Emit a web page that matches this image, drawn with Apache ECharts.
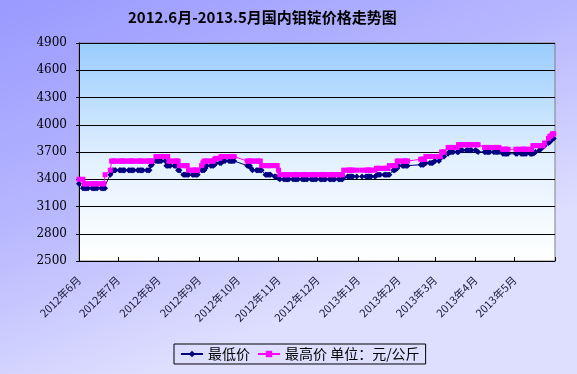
<!DOCTYPE html>
<html><head><meta charset="utf-8">
<script src="https://cdn.jsdelivr.net/npm/echarts@6/dist/echarts.min.js"></script>
<style>html,body{margin:0;padding:0;}#c{width:577px;height:374px;}</style>
</head><body><div id="c"></div>
<script>
const titleText = '2012.6月-2013.5月国内钼锭价格走势图';
const monthKeys = ['2012-06','2012-07','2012-08','2012-09','2012-10','2012-11','2012-12','2013-01','2013-02','2013-03','2013-04','2013-05'];
const monthLabels = ['2012年6月','2012年7月','2012年8月','2012年9月','2012年10月','2012年11月','2012年12月','2013年1月','2013年2月','2013年3月','2013年4月','2013年5月'];
const yTicks = [2500,2800,3100,3400,3700,4000,4300,4600,4900];
const seriesNames = ['最低价','最高价'];
const unitText = '单位：元/公斤';
// trading days in each month
const tradingDays = [
  [1,4,5,6,7,8,11,12,13,14,15,18,19,20,21,25,26,27,28,29],
  [2,3,4,5,6,9,10,11,12,13,16,17,18,19,20,23,24,25,26,27,30,31],
  [1,2,3,6,7,8,9,10,13,14,15,16,17,20,21,22,23,24,27,28,29,30,31],
  [3,4,5,6,7,10,11,12,13,14,17,18,19,20,21,24,25,26,27,28],
  [8,9,10,11,12,15,16,17,18,19,22,23,24,25,26,29,30,31],
  [1,2,5,6,7,8,9,12,13,14,15,16,19,20,21,22,23,26,27,28,29,30],
  [3,4,5,6,7,10,11,12,13,14,17,18,19,20,21,24,25,26,27,28,31],
  [4,7,8,9,10,11,14,15,16,17,18,21,22,23,24,25,28,29,30,31],
  [1,4,5,6,7,8,18,19,20,21,22,25,26,27,28],
  [1,4,5,6,7,8,11,12,13,14,15,18,19,20,21,22,25,26,27,28,29],
  [1,2,3,8,9,10,11,12,15,16,17,18,19,22,23,24,25,26],
  [2,3,6,7,8,9,10,13,14,15,16,17,20,21,22,23,24,27,28,29,30,31]
];
const lowValues = [
  3350,3300,3300,3300,3300,3300,3300,3300,3300,3300,3300,3300,3300,3300,3300,3450,3480,3500,3500,3500,
  3500,3500,3500,3500,3500,3500,3500,3500,3500,3500,3500,3500,3500,3500,3500,3500,3500,3500,3550,3560,3600,3600,
  3600,3600,3600,3600,3550,3550,3550,3550,3550,3550,3550,3500,3500,3450,3450,3450,3450,3450,3450,3450,3450,3450,3450,
  3500,3500,3500,3520,3550,3550,3550,3550,3560,3580,3580,3580,3600,3600,3600,3600,3600,3600,3600,3600,
  3550,3550,3550,3520,3500,3500,3500,3500,3500,3500,3450,3450,3450,3450,3450,3430,3430,3420,
  3410,3400,3400,3400,3400,3400,3400,3400,3400,3400,3400,3400,3400,3400,3400,3400,3400,3400,3400,3400,3400,3400,
  3400,3400,3400,3400,3400,3400,3400,3400,3400,3400,3400,3400,3400,3400,3420,3430,3430,3430,3430,3430,3430,
  3430,3430,3430,3430,3430,3430,3430,3440,3450,3450,3450,3450,3450,3450,3450,3450,3500,3500,3510,3520,
  3550,3550,3550,3550,3550,3550,3560,3560,3560,3570,3580,3580,3580,3580,3590,
  3600,3600,3630,3650,3650,3650,3680,3700,3700,3700,3700,3700,3700,3720,3720,3720,3720,3720,3720,3720,3720,
  3720,3710,3700,3700,3700,3700,3700,3700,3700,3700,3700,3700,3700,3680,3680,3680,3680,3680,
  3680,3680,3680,3680,3680,3680,3680,3680,3680,3680,3690,3700,3720,3730,3750,3760,3770,3800,3810,3830,3840,3850
];
const highValues = [
  3400,3400,3350,3350,3350,3350,3350,3350,3350,3350,3350,3350,3350,3350,3450,3500,3600,3600,3600,3600,
  3600,3600,3600,3600,3600,3600,3600,3600,3600,3600,3600,3600,3600,3600,3600,3600,3600,3600,3600,3600,3650,3650,
  3650,3650,3650,3650,3650,3650,3600,3600,3600,3600,3600,3600,3550,3550,3550,3550,3550,3500,3500,3500,3500,3500,3500,
  3550,3580,3600,3600,3600,3600,3600,3600,3620,3630,3630,3650,3650,3650,3650,3650,3650,3650,3650,3650,
  3600,3600,3600,3600,3600,3600,3600,3600,3600,3550,3550,3550,3550,3550,3550,3550,3550,3550,
  3500,3450,3450,3450,3450,3450,3450,3450,3450,3450,3450,3450,3450,3450,3450,3450,3450,3450,3450,3450,3450,3450,
  3450,3450,3450,3450,3450,3450,3450,3450,3450,3450,3450,3450,3450,3450,3500,3500,3500,3500,3500,3500,3500,
  3500,3500,3500,3500,3500,3500,3500,3520,3520,3520,3520,3520,3520,3520,3520,3550,3550,3550,3550,3600,
  3600,3600,3600,3600,3600,3600,3620,3620,3620,3620,3650,3650,3650,3650,3650,
  3650,3650,3650,3700,3700,3700,3750,3750,3750,3750,3750,3750,3780,3780,3780,3780,3780,3780,3780,3780,3780,
  3780,3780,3780,3750,3750,3750,3750,3750,3750,3750,3750,3750,3750,3730,3730,3730,3730,3730,
  3730,3730,3730,3730,3730,3730,3730,3730,3730,3770,3770,3770,3770,3770,3770,3770,3800,3850,3870,3880,3900,3900
];

const DAY = 86400000;
const origin = Date.UTC(2012, 5, 1);
function offsetOf(y, m, d) { return (Date.UTC(y, m - 1, d) - origin) / DAY; }
const xs = [];
monthKeys.forEach((k, i) => {
  const [y, m] = k.split('-').map(Number);
  tradingDays[i].forEach(d => xs.push(offsetOf(y, m, d)));
});
const monthStarts = monthKeys.map(k => { const [y, m] = k.split('-').map(Number); return offsetOf(y, m, 1); });
const xEnd = offsetOf(2013, 6, 1);
const lowData = xs.map((x, i) => [x, lowValues[i]]);
const highData = xs.map((x, i) => [x, highValues[i]]);

const chart = echarts.init(document.getElementById('c'), null, {renderer: 'canvas'});
chart.setOption({
  animation: false,
  backgroundColor: {type: 'linear', x: 0, y: 0, x2: 0.25, y2: 1,
    colorStops: [{offset: 0, color: '#9999FF'}, {offset: 0.55, color: '#B8B8FF'}, {offset: 1, color: '#DEDEFF'}]},
  title: {
    text: titleText, left: 128, top: 10, padding: 0,
    textStyle: {fontFamily: 'Noto Sans CJK SC', fontSize: 15, fontWeight: 'bold', color: '#000'}
  },
  legend: {
    left: 174, top: 344, padding: [3, 6, 3, 6], itemGap: 7, itemWidth: 22, itemHeight: 8,
    borderColor: '#000', borderWidth: 1, backgroundColor: 'rgba(255,255,255,0)',
    data: seriesNames,
    formatter: n => n === seriesNames[1] ? n + ' ' + unitText : n,
    textStyle: {fontFamily: 'Noto Sans CJK SC', fontSize: 14, color: '#000'}
  },
  grid: {
    left: 79, right: 22, top: 43, bottom: 113, show: true,
    borderColor: '#808080', borderWidth: 1,
    backgroundColor: {type: 'linear', x: 0, y: 0, x2: 0, y2: 1,
      colorStops: [{offset: 0, color: '#99CCFF'}, {offset: 0.55, color: '#E4F1FF'}, {offset: 1, color: '#FFFFFF'}]}
  },
  xAxis: {
    type: 'value', min: 0, max: xEnd,
    axisLine: {show: true, onZero: false, lineStyle: {color: '#000', width: 1}},
    axisTick: {show: true, inside: true, length: 4, lineStyle: {color: '#000'}, customValues: monthStarts.concat([xEnd])},
    axisLabel: {
      customValues: monthStarts, rotate: 45, margin: 17,
      fontFamily: 'Noto Sans CJK SC', fontSize: 11, color: '#1a1a3a',
      formatter: v => monthLabels[monthStarts.indexOf(v)] || ''
    },
    splitLine: {show: false}
  },
  yAxis: {
    type: 'value', min: yTicks[0], max: yTicks[yTicks.length - 1], interval: 300,
    axisLine: {show: true, lineStyle: {color: '#000', width: 1}},
    axisTick: {show: true, length: 3, lineStyle: {color: '#000'}},
    axisLabel: {margin: 12, fontFamily: 'DejaVu Serif', fontSize: 12, color: '#000', formatter: v => String(v)},
    splitLine: {show: true, lineStyle: {color: '#000', width: 1}}
  },
  series: [
    {name: seriesNames[0], type: 'line', data: lowData, symbol: 'diamond', symbolSize: 6,
      showAllSymbol: true, itemStyle: {color: '#000080'}, lineStyle: {color: '#000080', width: 1}},
    {name: seriesNames[1], type: 'line', data: highData, symbol: 'rect', symbolSize: 5,
      showAllSymbol: true, itemStyle: {color: '#FF00FF'}, lineStyle: {color: '#FF00FF', width: 1}}
  ]
});
</script>
</body></html>
